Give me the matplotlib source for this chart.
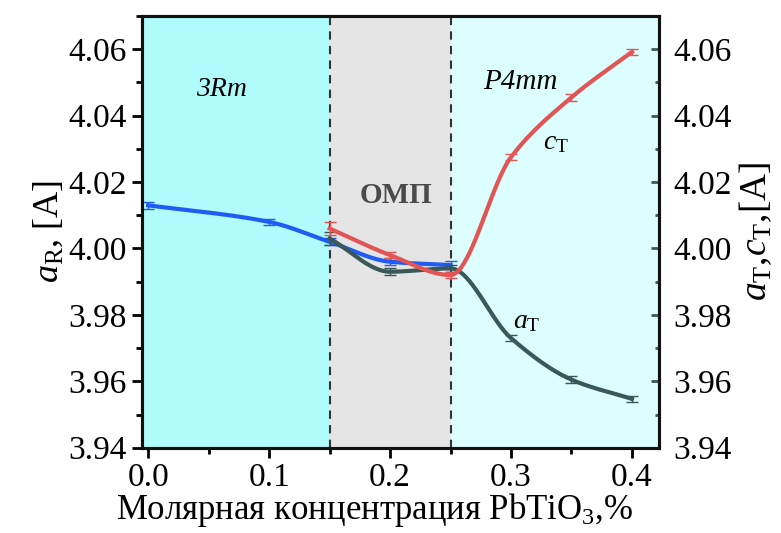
import matplotlib
matplotlib.use("Agg")
import matplotlib.pyplot as plt
import numpy as np
from matplotlib.ticker import MultipleLocator, FormatStrFormatter

plt.rcParams['font.family'] = ['Liberation Serif', 'DejaVu Serif']
plt.rcParams['mathtext.fontset'] = 'custom'
plt.rcParams['mathtext.rm'] = 'Liberation Serif'
plt.rcParams['mathtext.it'] = 'Liberation Serif:italic'

# data
x_r = [0.0, 0.1, 0.15, 0.2, 0.25]
a_r = [4.013, 4.008, 4.002, 3.996, 3.995]
a_r_err = [0.001, 0.001, 0.001, 0.001, 0.0012]

x_t = [0.15, 0.2, 0.25, 0.3, 0.35, 0.4]
a_t = [4.003, 3.993, 3.994, 3.973, 3.9605, 3.9547]
a_t_err = [0.002, 0.001, 0.001, 0.001, 0.001, 0.001]
c_t = [4.006, 3.998, 3.992, 4.0275, 4.0455, 4.0592]
c_t_err = [0.002, 0.001, 0.001, 0.001, 0.001, 0.001]

phase_bounds = [0.15, 0.25]


def smooth(x, y, n=200):
    # shape-preserving cubic (PCHIP) through the points, only for drawing
    x = np.asarray(x, float)
    y = np.asarray(y, float)
    h = np.diff(x)
    s = np.diff(y) / h
    m = len(x)
    d = np.zeros(m)
    for k in range(1, m - 1):
        if s[k - 1] * s[k] > 0:
            w1 = 2 * h[k] + h[k - 1]
            w2 = h[k] + 2 * h[k - 1]
            d[k] = (w1 + w2) / (w1 / s[k - 1] + w2 / s[k])
    d[0] = s[0]
    d[-1] = s[-1]
    xs = np.linspace(x[0], x[-1], n)
    idx = np.clip(np.searchsorted(x, xs) - 1, 0, m - 2)
    t = (xs - x[idx]) / h[idx]
    h00 = 2 * t ** 3 - 3 * t ** 2 + 1
    h10 = t ** 3 - 2 * t ** 2 + t
    h01 = -2 * t ** 3 + 3 * t ** 2
    h11 = t ** 3 - t ** 2
    ys = (h00 * y[idx] + h10 * h[idx] * d[idx]
          + h01 * y[idx + 1] + h11 * h[idx] * d[idx + 1])
    return xs, ys


fig = plt.figure(figsize=(7.81, 5.33), dpi=100)
ax = fig.add_axes([0.182, 0.16, 0.662, 0.81])
ax2 = ax.twinx()

xlim = (-0.005, 0.4225)
ylim = (3.94, 4.07)

ax.axvspan(xlim[0], phase_bounds[0], color='#b0fbfb', zorder=0)
ax.axvspan(phase_bounds[0], phase_bounds[1], color='#e5e5e5', zorder=0)
ax.axvspan(phase_bounds[1], xlim[1], color='#dcfefe', zorder=0)
for xb in phase_bounds:
    ax.axvline(xb, color='#333333', ls=(0, (4, 3)), lw=1.5, zorder=1)

blue = '#1f5cf5'
red = '#e35555'
dark = '#3a5856'

xs, ys = smooth(x_r, a_r)
ax.plot(xs, ys, color=blue, lw=3, zorder=3)
ax.errorbar(x_r, a_r, yerr=a_r_err, fmt='none', ecolor=blue, elinewidth=1,
            capsize=4, capthick=1, zorder=3)

xs, ys = smooth(x_t, a_t)
ax2.plot(xs, ys, color=dark, lw=3, zorder=3)
ax2.errorbar(x_t, a_t, yerr=a_t_err, fmt='none', ecolor=dark, elinewidth=1,
             capsize=4, capthick=1, zorder=3)
xs, ys = smooth(x_t, c_t)
ax2.plot(xs, ys, color=red, lw=3, zorder=3)
ax2.errorbar(x_t, c_t, yerr=c_t_err, fmt='none', ecolor=red, elinewidth=1,
             capsize=4, capthick=1, zorder=3)

for a in (ax, ax2):
    a.set_xlim(*xlim)
    a.set_ylim(*ylim)
    a.yaxis.set_major_locator(MultipleLocator(0.02))
    a.yaxis.set_minor_locator(MultipleLocator(0.01))
    a.yaxis.set_major_formatter(FormatStrFormatter('%.2f'))
    for s in a.spines.values():
        s.set_linewidth(2.2)
        s.set_color('#111111')

ax.xaxis.set_major_locator(MultipleLocator(0.1))
ax.xaxis.set_minor_locator(MultipleLocator(0.05))
ax.xaxis.set_major_formatter(FormatStrFormatter('%.1f'))
ax.tick_params(axis='both', which='major', direction='out', length=7, width=2,
               labelsize=24, pad=4)
ax.tick_params(axis='both', which='minor', direction='out', length=4, width=2)
ax2.tick_params(axis='y', which='major', direction='in', length=6, width=2,
                labelsize=24, color=dark, pad=10)
ax2.tick_params(axis='y', which='minor', direction='in', length=3, width=2,
                color=dark)

ax.set_xlabel('Молярная концентрация PbTiO$_3$,%', fontsize=25)
ax.xaxis.set_label_coords(0.45, -0.1)
ax.set_ylabel(r'$\mathit{a}_{\mathrm{R}}$, [A]', fontsize=26, labelpad=2)
ax2.set_ylabel(r'$\mathit{a}_{\mathrm{T}}$,$\mathit{c}_{\mathrm{T}}$,[A]',
               fontsize=27, labelpad=4)

ax.text(0.061, 4.048, '3Rm', fontsize=20, style='italic', ha='center', va='center')
ax.text(0.205, 4.016, 'ОМП', fontsize=21, fontweight='bold', color='#4a4a4a',
        ha='center', va='center')
ax.text(0.308, 4.05, 'P4mm', fontsize=21, style='italic', ha='center', va='center')
ax.text(0.337, 4.032, r'$\mathit{c}_{\mathrm{T}}$', fontsize=20, ha='center', va='center')
ax.text(0.313, 3.978, r'$\mathit{a}_{\mathrm{T}}$', fontsize=20, ha='center', va='center')

fig.savefig('out.png', dpi=100)
